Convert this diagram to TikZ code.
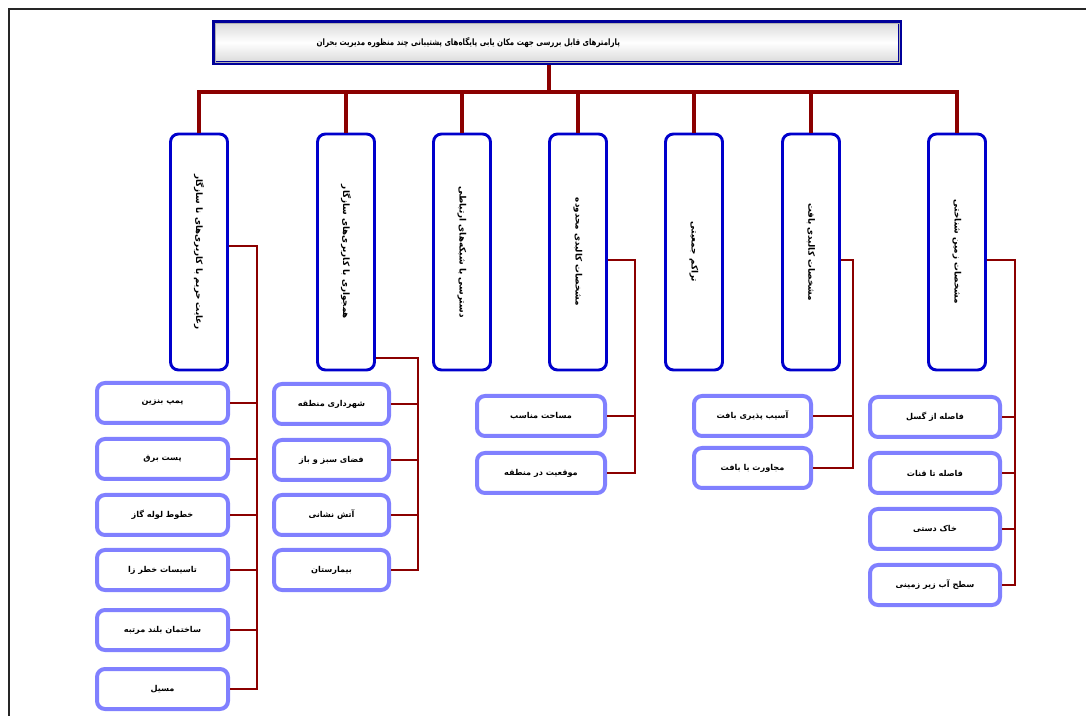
\documentclass[tikz,border=0pt]{standalone}
\usepackage{fontspec}
\usepackage{graphicx}
\TeXXeTstate=1
\newfontfamily\fa[Script=Arabic]{DejaVu Sans}
\newcommand{\fatxt}[1]{{\fa\beginR #1\endR}}
\definecolor{barred}{HTML}{8B0000}
\definecolor{navy}{HTML}{000099}
\definecolor{boxblue}{HTML}{0000CC}
\definecolor{leafblue}{HTML}{8080FF}
\begin{document}
\begin{tikzpicture}[x=0.75pt,y=-0.75pt,
  titlebox/.style={draw=navy,line width=3pt,top color=gray!30,bottom color=gray!30,middle color=white,
    minimum width=0.75pt*686,minimum height=0.75pt*41,inner sep=0pt,font=\bfseries\fontsize{6.6}{8}\selectfont},
  vbox/.style={draw=boxblue,line width=2.2pt,rounded corners=6pt,fill=white,
    minimum width=0.75pt*57,minimum height=0.75pt*236,inner sep=0pt,font=\bfseries\fontsize{6.6}{8}\selectfont},
  leaf/.style={draw=leafblue,line width=3pt,rounded corners=6pt,fill=white,
    minimum height=0.75pt*40,inner sep=0pt,font=\bfseries\fontsize{6.1}{7}\selectfont},
  bar/.style={draw=barred,line width=2.8pt},
  link/.style={draw=barred,line width=1.5pt},
  framec/.style={draw=black!85,line width=1.5pt}]
\useasboundingbox (0,0) rectangle (1086,716);
\draw[framec] (9,716) -- (9,9) -- (1086,9);

% title
\node[titlebox] (T) at (557,42.5) {\scalebox{0.8}[1]{\fatxt{پارامترهای  قابل بررسی جهت مکان یابی پایگاه‌های پشتیبانی چند منظوره مدیریت بحران}}\kern133pt\relax};
\draw[gray!60,line width=0.5pt] ([xshift=2.2pt,yshift=-2.2pt]T.north west) rectangle ([xshift=-2.2pt,yshift=2.2pt]T.south east);

% vertical boxes
\node[vbox] (V1) at (199,252) {\rotatebox{-90}{\fatxt{رعایت حریم با کاربری‌های نا سازگار}}};
\node[vbox] (V2) at (346,252) {\rotatebox{-90}{\fatxt{همجواری با کاربری‌های سازگار}}};
\node[vbox] (V3) at (462,252) {\rotatebox{-90}{\fatxt{دسترسی با شبکه‌های ارتباطی}}};
\node[vbox] (V4) at (578,252) {\rotatebox{-90}{\fatxt{مشخصات کالبدی محدوده}}};
\node[vbox] (V5) at (694,252) {\rotatebox{-90}{\fatxt{تراکم جمعیتی}}};
\node[vbox] (V6) at (811,252) {\rotatebox{-90}{\fatxt{مشخصات کالبدی بافت}}};
\node[vbox] (V7) at (957,252) {\rotatebox{-90}{\fatxt{مشخصات زمین شناختی}}};

% top bus
\coordinate (tr) at (549,92);
\draw[bar] (T.south -| tr) -- (tr);
\draw[bar,line join=miter] (V1.north) -- (V1.north |- tr) -- (V7.north |- tr) -- (V7.north);
\foreach \v in {V2,V3,V4,V5,V6}{\draw[bar] (\v.north) -- (\v.north |- tr);}

% group 1 leaves
\begin{scope}[every node/.append style={leaf,minimum width=0.75pt*131}]
\node (A1) at (162.5,403) {\fatxt{پمپ بنزین}};
\node (A2) at (162.5,459) {\fatxt{پست برق}};
\node (A3) at (162.5,515) {\fatxt{خطوط لوله گاز}};
\node (A4) at (162.5,570) {\fatxt{تاسیسات خطر زا}};
\node (A5) at (162.5,630) {\fatxt{ساختمان بلند مرتبه}};
\node (A6) at (162.5,689) {\fatxt{مسیل}};
\end{scope}
\coordinate (b1) at (257,246);
\draw[link] (V1.east |- b1) -- (b1) |- (A6.east);
\foreach \l in {A1,A2,A3,A4,A5}{\draw[link] (\l.east) -- (\l.east -| b1);}

% group 2 leaves
\begin{scope}[every node/.append style={leaf,minimum width=0.75pt*115}]
\node (B1) at (331.5,404) {\fatxt{شهرداری منطقه}};
\node (B2) at (331.5,460) {\fatxt{فضای سبز و باز}};
\node (B3) at (331.5,515) {\fatxt{آتش نشانی}};
\node (B4) at (331.5,570) {\fatxt{بیمارستان}};
\end{scope}
\coordinate (b2) at (418,358);
\draw[link] (V2.east |- b2) -- (b2) |- (B4.east);
\foreach \l in {B1,B2,B3}{\draw[link] (\l.east) -- (\l.east -| b2);}

% group 4 leaves
\begin{scope}[every node/.append style={leaf,minimum width=0.75pt*128}]
\node (C1) at (541,416) {\fatxt{مساحت مناسب}};
\node (C2) at (541,473) {\fatxt{موقعیت در منطقه}};
\end{scope}
\coordinate (b4) at (635,260);
\draw[link] (V4.east |- b4) -- (b4) |- (C2.east);
\draw[link] (C1.east) -- (C1.east -| b4);

% group 6 leaves
\begin{scope}[every node/.append style={leaf,minimum width=0.75pt*117}]
\node (D1) at (752.5,416) {\fatxt{آسیب پذیری بافت}};
\node (D2) at (752.5,468) {\fatxt{مجاورت با بافت}};
\end{scope}
\coordinate (b6) at (853,260);
\draw[link] (V6.east |- b6) -- (b6) |- (D2.east);
\draw[link] (D1.east) -- (D1.east -| b6);

% group 7 leaves
\begin{scope}[every node/.append style={leaf,minimum width=0.75pt*130}]
\node (E1) at (935,417) {\fatxt{فاصله از گسل}};
\node (E2) at (935,473) {\fatxt{فاصله تا قنات}};
\node (E3) at (935,529) {\fatxt{خاک دستی}};
\node (E4) at (935,585) {\fatxt{سطح آب زیر زمینی}};
\end{scope}
\coordinate (b7) at (1015,260);
\draw[link] (V7.east |- b7) -- (b7) |- (E4.east);
\foreach \l in {E1,E2,E3}{\draw[link] (\l.east) -- (\l.east -| b7);}
\end{tikzpicture}
\end{document}
